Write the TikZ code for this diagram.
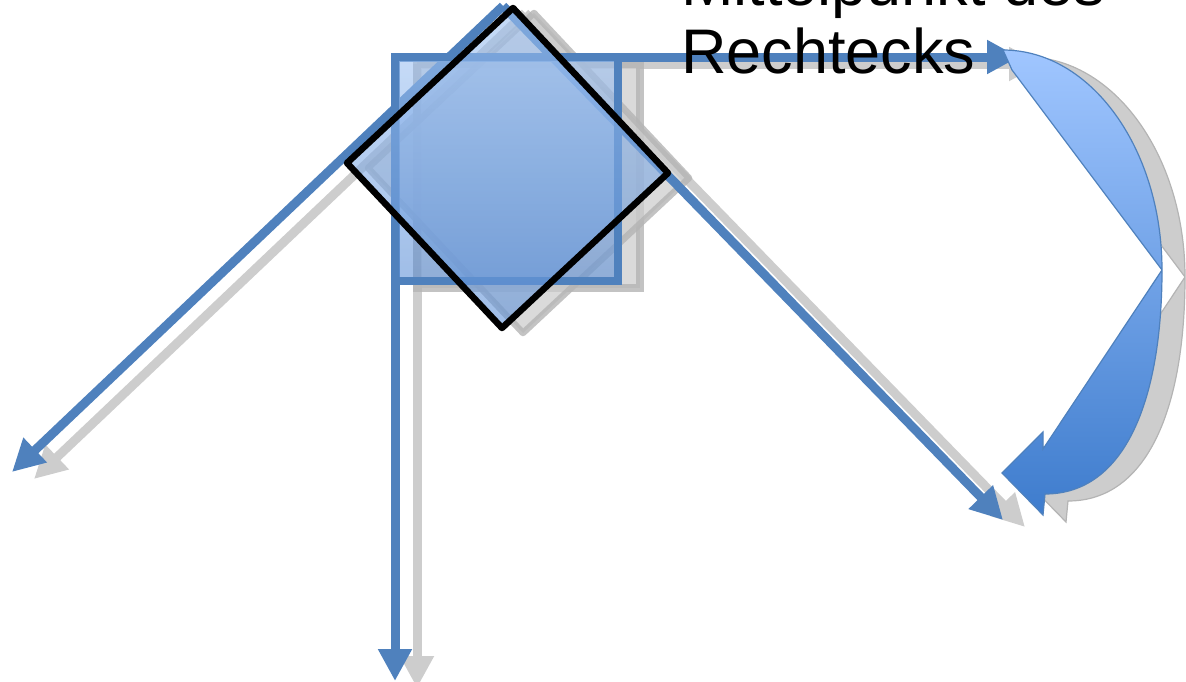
\documentclass[tikz,border=0pt]{standalone}
\usepackage{fontspec}
\setmainfont{Liberation Sans}
\usetikzlibrary{arrows.meta}
\definecolor{axisblue}{RGB}{79,129,189}
\definecolor{shadowgray}{RGB}{205,205,205}
\definecolor{shadowedge}{RGB}{180,180,180}
\definecolor{filltop}{RGB}{160,195,242}
\definecolor{fillbot}{RGB}{95,145,215}
\definecolor{arrtop}{RGB}{160,198,255}
\definecolor{arrbot}{RGB}{62,124,205}
\begin{document}
\begin{tikzpicture}[x=1pt,y=-1pt,
  axis/.style={draw=axisblue,line width=9pt,-{Triangle[width=32pt,length=32pt]}},
  axisshadow/.style={draw=shadowgray,line width=9pt,-{Triangle[width=32pt,length=32pt]}},
  shapeshadow/.style={fill=shadowgray,fill opacity=0.75,draw=shadowedge,draw opacity=0.8},
  boxfill/.style={top color=filltop,bottom color=fillbot,fill opacity=0.6},
  bigarrow/.style={top color=arrtop,bottom color=arrbot,draw=axisblue,line width=1.2pt},
  bigarrowshadow/.style={fill=shadowgray,draw=shadowedge,line width=1.2pt},
  lbl/.style={font=\fontsize{63pt}{68pt}\selectfont,inner sep=0pt,anchor=base west}]
\useasboundingbox (0,0) rectangle (1186,681);
\clip (0,0) rectangle (1186,681);

% named points
\coordinate (O) at (395,57);
\coordinate (xend) at (1019,57);
\coordinate (yend) at (395,681);
\coordinate (D) at (503,6);
\coordinate (uend) at (1003,520);
\coordinate (vend) at (12,472);

% ---------- shadows ----------
\draw[axisshadow] ([shift={(22,7)}]O) -- ([shift={(22,7)}]xend);
\draw[axisshadow] ([shift={(22,7)}]O) -- ([shift={(22,7)}]yend);
\draw[axisshadow] ([shift={(22,7)}]D) -- ([shift={(22,7)}]uend);
\draw[axisshadow] ([shift={(22,7)}]D) -- ([shift={(22,7)}]vend);
\begin{scope}[shift={(22,7)}]
  \path[shapeshadow,line width=8pt] (395,57) rectangle (618,281);
\end{scope}
\begin{scope}[shift={(21,5)}]
  \path[shapeshadow,line width=6.5pt,line join=round] (513,8) -- (668,173) -- (502,328) -- (347,163) -- cycle;
\end{scope}
\begin{scope}[shift={(23,7)}]
  \path[bigarrowshadow] (1003,50) .. controls (1091,50) and (1162,149) .. (1162,270)
    .. controls (1162,400) and (1125,494) .. (1045,494) -- (1043,515) -- (1002,473)
    -- (1043,432) -- (1043,449) -- (1162,270) -- (1012,70) -- cycle;
\end{scope}

% ---------- axes ----------
\draw[axis] (O) -- (xend);
\draw[axis] (O) -- (yend);
\draw[axis] (D) -- (uend);
\draw[axis] (D) -- (vend);

% ---------- rectangle ----------
\path[boxfill] (395,57) rectangle (618,281);
\draw[axisblue,line width=8pt] (395,57) rectangle (618,281);

% ---------- rotated square ----------
\path[boxfill] (513,8) -- (668,173) -- (502,328) -- (347,163) -- cycle;
\draw[black,line width=6.5pt,line join=round] (513,8) -- (668,173) -- (502,328) -- (347,163) -- cycle;

% ---------- curved arrow ----------
\path[bigarrow] (1003,50) .. controls (1091,50) and (1162,149) .. (1162,270)
    .. controls (1162,400) and (1125,494) .. (1045,494) -- (1043,515) -- (1002,473)
    -- (1043,432) -- (1043,449) -- (1162,270) -- (1012,70) -- cycle;

% ---------- label ----------
\node[lbl] (l1) at (681,5) {Mittelpunkt des};
\node[lbl] (l2) at (681,73) {Rechtecks};
\end{tikzpicture}
\end{document}
